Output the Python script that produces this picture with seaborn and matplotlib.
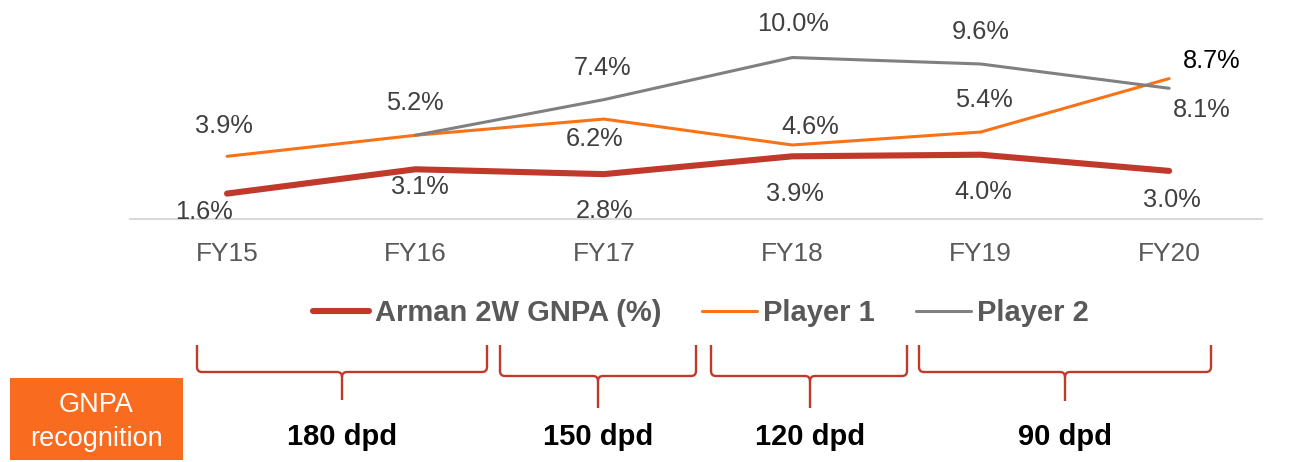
import numpy as np
import pandas as pd
import matplotlib
matplotlib.use("Agg")
import matplotlib.pyplot as plt
from matplotlib.path import Path
from matplotlib.patches import PathPatch, Rectangle
import seaborn as sns

# ---- data -------------------------------------------------------------
years = ["FY15", "FY16", "FY17", "FY18", "FY19", "FY20"]
arman = [1.6, 3.1, 2.8, 3.9, 4.0, 3.0]
player1 = [3.9, 5.2, 6.2, 4.6, 5.4, 8.7]
player2 = [np.nan, 5.2, 7.4, 10.0, 9.6, 8.1]
series_names = ["Arman 2W GNPA (%)", "Player 1", "Player 2"]
regimes = ["180 dpd", "150 dpd", "120 dpd", "90 dpd"]
box_text = "GNPA\nrecognition"

# ---- styling ----------------------------------------------------------
sns.set_theme(style="white")
plt.rcParams["font.family"] = ["Liberation Sans", "DejaVu Sans"]

colors = ["#C0392B", "#F97316", "#808080"]
widths = [4.4, 2.2, 2.2]
LABEL_COLOR = "#404040"
TEXT_GRAY = "#595959"

W, H = 1293, 462
fig = plt.figure(figsize=(W / 100, H / 100), dpi=100)


def fx(x):
    return x / W


def fy(y):
    return 1 - y / H


ax = fig.add_axes([fx(130), fy(219.5), (1262 - 130) / W, 219.5 / H])

df = pd.DataFrame({
    "pos": list(range(len(years))) * 3,
    "value": arman + player1 + player2,
    "series": np.repeat(series_names, len(years)),
})

for name, c, lw in zip(series_names, colors, widths):
    sub = df[df["series"] == name].dropna()
    sns.lineplot(data=sub, x="pos", y="value", color=c, linewidth=lw,
                 estimator=None, sort=False, ax=ax, label=name,
                 solid_capstyle="round", legend=False)

ax.set_xlim(-0.515, 5.493)
ax.set_ylim(0, 13.55)
ax.set_xticks(range(len(years)))
ax.set_xticklabels(years, fontsize=19, color=TEXT_GRAY)
ax.set_yticks([])
ax.set_xlabel("")
ax.set_ylabel("")
ax.tick_params(axis="x", length=0, pad=16)
for s in ["top", "left", "right"]:
    ax.spines[s].set_visible(False)
ax.spines["bottom"].set_color("#D9D9D9")
ax.spines["bottom"].set_linewidth(1.5)

# value labels: (dx, dy) pixel offsets from each point (dy positive = down)
offsets = [
    [(-23, 18), (4, 18), (1, 37), (3, 38), (3, 37), (3, 29)],
    [(-3, -30), (-1, -32), (-9, 20), (18, -18), (3, -32), (43, -18)],
    [None, None, (-1, -32), (1, -34), (0, -32), (33, 22)],
]
values = [arman, player1, player2]
for si, (vals, offs) in enumerate(zip(values, offsets)):
    for i, (v, off) in enumerate(zip(vals, offs)):
        if off is None or np.isnan(v):
            continue
        col = "black" if (si == 1 and i == 5) else LABEL_COLOR
        ax.annotate(f"{v:.1f}%", (i, v), xytext=(off[0], -off[1]),
                    textcoords="offset pixels", ha="center", va="center",
                    fontsize=18.3, color=col, annotation_clip=False)

# legend
handles, labels = ax.get_legend_handles_labels()
fig.legend(handles, labels, loc="center", bbox_to_anchor=(fx(701), fy(313)),
           ncol=3, frameon=False, prop={"weight": "bold", "size": 21},
           labelcolor=TEXT_GRAY, handlelength=1.9, handletextpad=0.2,
           columnspacing=1.4)


# curly braces grouping the years
def brace(x0, x1, ytop, yh, xm, ytip, r=5):
    pts = [
        (x0, ytop), (x0, yh - r), (x0, yh), (x0 + r, yh),
        (xm - r, yh), (xm, yh), (xm, yh + r), (xm, ytip),
        (xm, yh + r), (xm, yh), (xm + r, yh),
        (x1 - r, yh), (x1, yh), (x1, yh - r), (x1, ytop),
    ]
    codes = [Path.MOVETO, Path.LINETO, Path.CURVE3, Path.CURVE3,
             Path.LINETO, Path.CURVE3, Path.CURVE3, Path.LINETO,
             Path.MOVETO, Path.CURVE3, Path.CURVE3,
             Path.LINETO, Path.CURVE3, Path.CURVE3, Path.LINETO]
    verts = [(fx(x), fy(y)) for x, y in pts]
    fig.add_artist(PathPatch(Path(verts, codes), transform=fig.transFigure,
                             fill=False, edgecolor="#C0392B", linewidth=1.7))


brace_geom = [
    (197, 487, 345, 372, 342, 400),
    (500, 696, 345, 376, 598, 408),
    (711, 907, 345, 376, 810, 408),
    (919, 1211, 345, 372, 1065, 401),
]
for (x0, x1, yt, yh, xm, ytip), txt in zip(brace_geom, regimes):
    brace(x0, x1, yt, yh, xm, ytip)
    fig.text(fx(xm), fy(437), txt, ha="center", va="center",
             fontsize=21, fontweight="bold", color="black")

# orange side box
fig.add_artist(Rectangle((fx(10), fy(460)), (183 - 10) / W, (460 - 378) / H,
                         transform=fig.transFigure, facecolor="#F96B1E",
                         edgecolor="none"))
fig.text(fx(96.5), fy(422), box_text, ha="center", va="center",
         fontsize=19.5, color="white", linespacing=1.35)

fig.savefig("out.png", dpi=100)
